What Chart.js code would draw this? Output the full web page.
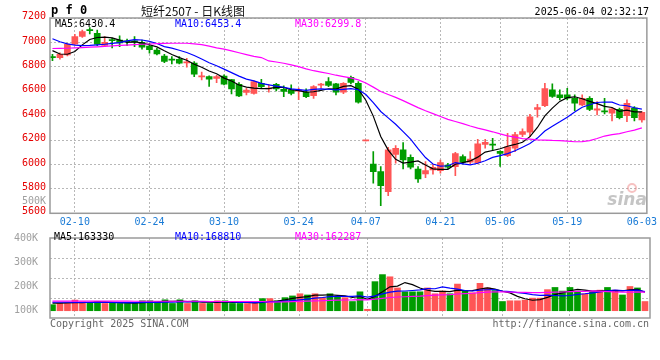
<!DOCTYPE html>
<html><head><meta charset="utf-8">
<script src="https://cdn.jsdelivr.net/npm/chart.js@4.4.1/dist/chart.umd.min.js"></script>
<style>
html,body{margin:0;padding:0;background:#fff;}
#wrap{position:relative;width:660px;height:360px;overflow:hidden;background:#fff;}
canvas{position:absolute;left:0;}
#c1{top:0;}
#c2{top:228px;}
</style></head><body>
<div id="wrap"><canvas id="c1" width="660" height="228"></canvas><canvas id="c2" width="660" height="132"></canvas></div>
<script>
// ---------- data ----------
const dates = ['02-05','02-06','02-07','02-10','02-11','02-12','02-13','02-14','02-17','02-18','02-19','02-20','02-21','02-24','02-25','02-26','02-27','02-28',
'03-03','03-04','03-05','03-06','03-07','03-10','03-11','03-12','03-13','03-14','03-17','03-18','03-19','03-20','03-21','03-24','03-25','03-26','03-27','03-28','03-31',
'04-01','04-02','04-03','04-07','04-08','04-09','04-10','04-11','04-14','04-15','04-16','04-17','04-18','04-21','04-22','04-23','04-24','04-25','04-28','04-29','04-30',
'05-06','05-07','05-08','05-09','05-12','05-13','05-14','05-15','05-16','05-19','05-20','05-21','05-22','05-23','05-26','05-27','05-28','05-29','05-30','06-03'];
const tickDates = ['02-10','02-24','03-10','03-24','04-07','04-21','05-06','05-19','06-03'];

const open = [6880,6876,6898,6985,7050,7100,7075,6975,7020,7020, 7008,7010,7000,6970,6938,6888,6858,6862,6832,6830,
 6718,6720,6705,6725,6695,6657,6590,6583,6665,6618, 6657,6616,6611,6601,6592,6564,6650,6680,6660,6592,
 6714,6665,6193,6004,5941,5777,6083,6119,6059,5963, 5922,5955,5950,5996,5982,6064,6018,6015,6165,6168,
 6108,6072,6133,6247,6264,6452,6482,6611,6570,6570, 6542,6488,6542,6445,6439,6420,6452,6400,6461,6365];
const high = [6902,6915,6993,7067,7102,7122,7102,7048,7035,7053, 7028,7048,7020,6993,6952,6903,6884,6884,6870,6843,
 6757,6727,6730,6734,6698,6671,6624,6685,6698,6657, 6665,6644,6652,6625,6619,6646,6665,6712,6665,6670,
 6725,6679,6193,6105,5982,6140,6155,6179,6078,5982, 6023,6002,6037,6010,6100,6078,6105,6206,6206,6215,
 6112,6255,6264,6291,6411,6493,6665,6660,6611,6624, 6570,6570,6556,6515,6542,6461,6461,6529,6474,6433];
const low = [6850,6862,6890,6980,7040,7070,6974,6966,6955,6966, 6974,6966,6944,6911,6898,6835,6824,6824,6797,6720,
 6693,6640,6670,6652,6578,6556,6570,6575,6624,6592, 6603,6556,6570,6530,6548,6542,6625,6638,6570,6580,
 6660,6502,6193,5846,5663,5745,6010,5963,5963,5854, 5892,5920,5928,5968,5909,6004,6004,6004,6133,6119,
 5985,6064,6105,6228,6228,6387,6474,6550,6529,6529, 6441,6482,6441,6406,6414,6357,6373,6351,6357,6346];
const close = [6875,6903,6985,7048,7088,7096,6985,7000,7015,6995, 7004,7005,6962,6940,6905,6845,6855,6830,6836,6740,
 6722,6698,6720,6657,6620,6562,6610,6680,6638,6621, 6620,6598,6583,6605,6556,6638,6655,6647,6592,6665,
 6672,6510,6193,5941,5827,6119,6133,6037,5977,5881, 5950,5977,6015,5977,6090,6019,6045,6170,6182,6158,
 6090,6145,6245,6270,6390,6466,6622,6558,6548,6543, 6502,6542,6452,6455,6431,6455,6384,6501,6384,6428];
const volume = [125000,130000,130000,144000,137000,134000,138000,130000,134000,130000,
 130000,130000,141000,141000,138000,145000,130000,145000,130000,141000,
 130000,130000,141000,141000,130000,130000,130000,130000,150000,150000,
 141000,154000,161000,170000,165000,170000,154000,170000,157000,154000,
 138000,178000,106000,220000,249000,240000,194000,178000,178000,178000,
 194000,170000,181000,170000,210000,181000,174000,213000,194000,183000,
 138000,141000,141000,144000,152000,152000,187000,196000,181000,196000,
 181000,170000,178000,185000,196000,185000,165000,200000,194000,138000];

const ma5Head = [6933,6905,6903,6925];
const ma10Head = [7030,7005,6988,6978,6974,6976,6980,6985,6992];
const ma30Head = [6950,6951,6952,6955,6958,6961,6964,6968,6971,6975,6978,6982,6985,6987,6990,6992,6993,6993,6993,6988,6982,6970,6955,6945,6930,6915,6900,6886,6876];
const volMa5Head = [131000,131000,132000,133000];
const volMa10Head = [135000,135000,135000,134000,134000,134000,134000,134000,134000];
const volMa30Head = [140000,140000,140000,140000,140000,140000,140000,140000,140000,140000,140000,
 139000,139000,139000,139000,139000,139000,139000,139000,139000,139000,
 138000,138000,138000,138000,138000,138000,138000,138000];

const priceTicks = [5600,5800,6000,6200,6400,6600,6800,7000,7200];
const volTicks = [100000,200000,300000,400000];

const title = '短纤2507 - 日K线图';
const symbol = 'p f 0';
const stamp = '2025-06-04 02:32:17';
const priceMaText = ['MA5:6430.4','MA10:6453.4','MA30:6299.8'];
const volMaText = ['MA5:163330','MA10:168810','MA30:162287'];
const copyText = 'Copyright 2025 SINA.COM';
const urlText = 'http://finance.sina.com.cn';

// ---------- styling ----------
const UP = '#ff5656', DOWN = '#009c00';
const MONO = '"DejaVu Sans Mono", "Liberation Mono", monospace';
const GRID = '#b8b8b8';
const MA_COL = ['#000000','#0000ff','#ff00ff'];

const idx = dates.map((d,i)=>i);
const tickIdx = tickDates.map(d=>dates.indexOf(d));
const lastIdx = dates.length-1;
const colors = idx.map(i => close[i] >= open[i] ? UP : DOWN);

function movingAvg(src, n, head){
  return src.map((v,i)=>{
    if (i < n-1) return head[i];
    let s=0; for(let j=i-n+1;j<=i;j++) s+=src[j];
    return s/n;
  });
}
const pts = arr => idx.map(i=>({x:i,y:arr[i]}));

const xMin = -0.33, xMax = lastIdx + 0.67;

function xScale(showTicks){
  return {
    type:'linear', min:xMin, max:xMax, offset:false,
    afterBuildTicks: s => { s.ticks = tickIdx.map(v=>({value:v})); },
    ticks:{ display:showTicks, autoSkip:false, maxRotation:0, padding:3,
      color:'#1a7bd6', font:{family:MONO,size:10},
      callback: v => dates[v] },
    grid:{ offset:false, drawTicks:false, lineWidth:1,
      color: c => (c.tick && c.tick.value===lastIdx) ? 'rgba(0,0,0,0)' : GRID },
    border:{ display:false, dash:[2,2] },
    afterFit: s => { s.height = showTicks ? 14.7 : 0; }
  };
}

const framePlugin = {
  id:'frame',
  afterDatasetsDraw(chart){
    const {ctx, chartArea:a} = chart;
    ctx.save();
    ctx.strokeStyle = '#9a9a9a'; ctx.lineWidth = 1.5;
    ctx.strokeRect(a.left, a.top, a.right-a.left, a.bottom-a.top);
    ctx.restore();
  }
};

const mainText = {
  id:'mainText',
  afterDraw(chart){
    const ctx = chart.ctx, a = chart.chartArea;
    ctx.save();
    ctx.textBaseline = 'middle';
    ctx.fillStyle = '#000';
    ctx.font = 'bold 12px ' + MONO;
    ctx.textAlign = 'left';
    ctx.fillText(symbol, 51, 11);
    ctx.font = '12px "Noto Sans CJK SC"';
    ctx.fillStyle = '#111';
    ctx.fillText(title, 141, 11);
    ctx.font = '10px ' + MONO;
    ctx.fillStyle = '#000';
    ctx.textAlign = 'right';
    ctx.fillText(stamp, 649, 12);
    ctx.textAlign = 'left';
    const xs = [55,175,295];
    priceMaText.forEach((t,i)=>{ ctx.fillStyle = MA_COL[i]; ctx.fillText(t, xs[i], 24); });
    ctx.fillStyle = '#a0a0a0';
    ctx.textAlign = 'right';
    ctx.fillText('500K', 46, 201);
    // sina watermark
    ctx.strokeStyle = 'rgba(235,120,120,0.45)'; ctx.lineWidth = 2;
    ctx.beginPath(); ctx.arc(632, 188, 4, 0, Math.PI*2); ctx.stroke();
    ctx.font = 'italic bold 17px "DejaVu Sans"';
    ctx.fillStyle = 'rgba(150,150,150,0.55)';
    ctx.textAlign = 'right';
    ctx.fillText('sina', a.right, 201);
    ctx.restore();
  }
};

const volText = {
  id:'volText',
  beforeDatasetsDraw(chart){
    const ctx = chart.ctx, a = chart.chartArea;
    ctx.save();
    ctx.strokeStyle = GRID; ctx.lineWidth = 1; ctx.setLineDash([2,2]);
    for (let q=1;q<4;q++){
      const y = Math.round(a.top + (a.bottom-a.top)*q/4) + 0.5;
      ctx.beginPath(); ctx.moveTo(a.left, y); ctx.lineTo(a.right, y); ctx.stroke();
    }
    ctx.restore();
  },
  afterDraw(chart){
    const ctx = chart.ctx;
    ctx.save();
    ctx.textBaseline = 'middle';
    ctx.font = '10px ' + MONO;
    const xs = [54,175,295];
    volMaText.forEach((t,i)=>{ ctx.fillStyle = MA_COL[i]; ctx.fillText(t, xs[i], 9.5); });
    ctx.fillStyle = '#666';
    ctx.textAlign = 'left';
    ctx.fillText(copyText, 50, 96);
    ctx.textAlign = 'right';
    ctx.fillText(urlText, 649, 96);
    ctx.restore();
  }
};

const lineDs = (data, col) => ({ type:'line', data:pts(data), borderColor:col, borderWidth:1.2,
  pointRadius:0, tension:0, order:0, spanGaps:true });

// ---------- price chart ----------
new Chart(document.getElementById('c1'), {
  type:'bar',
  data:{ datasets:[
    { data: idx.map(i=>({x:i,y:[low[i],high[i]]})), backgroundColor:colors, barThickness:1, grouped:false, order:2 },
    { data: idx.map(i=>({x:i,y:[open[i],close[i]]})), backgroundColor:colors, barThickness:6, minBarLength:1, grouped:false, order:1 },
    lineDs(movingAvg(close,30,ma30Head), MA_COL[2]),
    lineDs(movingAvg(close,10,ma10Head), MA_COL[1]),
    lineDs(movingAvg(close,5,ma5Head), MA_COL[0])
  ]},
  options:{
    responsive:false, animation:false, devicePixelRatio:1,
    layout:{ padding:{ top:18, right:10, left:0, bottom:0 } },
    plugins:{ legend:{display:false}, tooltip:{enabled:false} },
    scales:{
      x: xScale(true),
      y: { type:'linear', min:5600, max:7200,
        afterBuildTicks: s => { s.ticks = priceTicks.map(v=>({value:v})); },
        ticks:{ color:'#e60000', font:{family:MONO,size:10}, padding:4, labelOffset:-1.5,
          callback: v => String(v) },
        grid:{ color:GRID, drawTicks:false },
        border:{ display:false, dash:[2,2] },
        afterFit: s => { s.width = 50; } }
    }
  },
  plugins:[framePlugin, mainText]
});

// ---------- volume chart ----------
new Chart(document.getElementById('c2'), {
  type:'bar',
  data:{ datasets:[
    { data: idx.map(i=>({x:i,y:volume[i]})), base:100000, backgroundColor:colors, barThickness:6, grouped:false, order:1 },
    lineDs(movingAvg(volume,30,volMa30Head), MA_COL[2]),
    lineDs(movingAvg(volume,10,volMa10Head), MA_COL[1]),
    lineDs(movingAvg(volume,5,volMa5Head), MA_COL[0])
  ]},
  options:{
    responsive:false, animation:false, devicePixelRatio:1,
    layout:{ padding:{ top:6.5, right:10, left:0, bottom:42 } },
    plugins:{ legend:{display:false}, tooltip:{enabled:false} },
    scales:{
      x: xScale(false),
      y: { type:'linear', min:70000, max:400000,
        afterBuildTicks: s => { s.ticks = volTicks.map(v=>({value:v})); },
        ticks:{ color:'#a0a0a0', font:{family:MONO,size:10}, padding:4, callback: v => (v/1000)+'K' },
        grid:{ display:false },
        border:{ display:false },
        afterFit: s => { s.width = 50; } }
    }
  },
  plugins:[framePlugin, volText]
});
</script>
</body></html>
